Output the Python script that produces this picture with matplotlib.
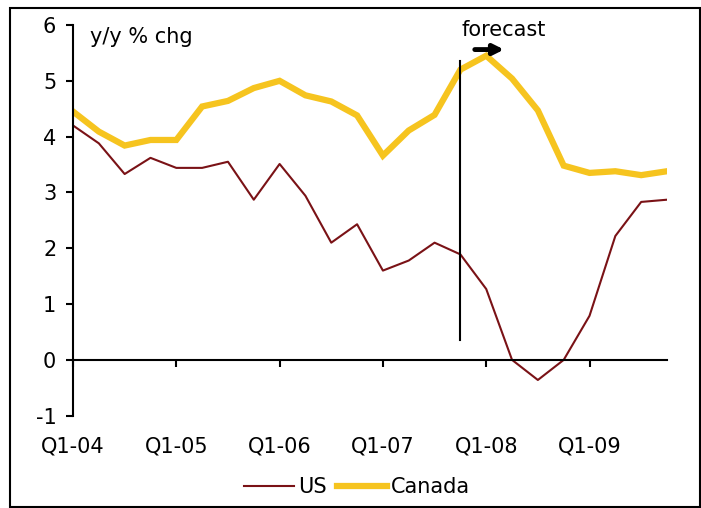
import matplotlib
matplotlib.use("Agg")
import matplotlib.pyplot as plt
from matplotlib.patches import Rectangle

# quarterly y/y % change, Q1-04 .. Q4-09
quarters = [f"Q{q}-{y:02d}" for y in range(4, 10) for q in range(1, 5)]
us = [4.20, 3.88, 3.33, 3.62, 3.44, 3.44, 3.55, 2.87, 3.51, 2.94, 2.10, 2.43,
      1.60, 1.78, 2.10, 1.89, 1.27, 0.00, -0.36, 0.00, 0.79, 2.22, 2.83, 2.87]
canada = [4.45, 4.09, 3.84, 3.94, 3.94, 4.54, 4.64, 4.87, 5.00, 4.74, 4.63, 4.38,
          3.66, 4.11, 4.39, 5.20, 5.45, 5.04, 4.47, 3.48, 3.35, 3.38, 3.31, 3.38]
year_labels = ["Q1-04", "Q1-05", "Q1-06", "Q1-07", "Q1-08", "Q1-09"]
forecast_start = 15  # Q4-07

fs = 15
plt.rcParams["font.family"] = "DejaVu Sans"
plt.rcParams["axes.unicode_minus"] = False

fig = plt.figure(figsize=(7.01, 5.08), dpi=100)
ax = fig.add_axes([73 / 701, 1 - 415.7 / 508, (667 - 73) / 701, (415.7 - 25) / 508])

x = list(range(len(quarters)))
l_us, = ax.plot(x, us, color="#7a1216", lw=1.5, label="US")
l_ca, = ax.plot(x, canada, color="#f6c41f", lw=4.5, label="Canada",
                solid_joinstyle="miter")

ax.set_xlim(0, len(quarters) - 1)
ax.set_ylim(-1, 6)
ax.set_yticks(range(-1, 7))
ax.tick_params(axis="y", direction="out", length=5, width=1.5, labelsize=fs, pad=7)

# x axis sits on zero, labels go below the plot
ax.spines["bottom"].set_position(("data", 0))
tick_pos = [quarters.index(q) for q in year_labels]
ax.set_xticks(tick_pos)
ax.set_xticklabels([])
ax.tick_params(axis="x", direction="out", length=5, width=1.5)
for p, lab in zip(tick_pos, year_labels):
    ax.text(p, -1.56, lab, ha="center", va="center", fontsize=fs, clip_on=False)

for s in ["top", "right"]:
    ax.spines[s].set_visible(False)
for s in ["left", "bottom"]:
    ax.spines[s].set_linewidth(1.5)

ax.text(0.66, 5.79, "y/y % chg", fontsize=fs, va="center", ha="left")

# forecast marker
ax.plot([forecast_start, forecast_start], [0.36, 5.36], color="black", lw=1.5)
ax.text(16.67, 5.91, "forecast", fontsize=fs, ha="center", va="center")
ax.annotate("", xy=(16.8, 5.56), xytext=(15.45, 5.56),
            arrowprops=dict(arrowstyle="-|>,head_length=0.6,head_width=0.3",
                            color="black", lw=3.5))

fig.legend(handles=[l_us, l_ca], loc="center", bbox_to_anchor=(357 / 701, 21 / 508),
           ncol=2, frameon=False, fontsize=fs, handlelength=2.4,
           handletextpad=0.2, columnspacing=0.5)

fig.add_artist(Rectangle((10 / 701, 1.5 / 508), 690 / 701, 499 / 508,
                         transform=fig.transFigure, fill=False,
                         edgecolor="black", lw=1.5))

fig.savefig("out.png", dpi=100)
